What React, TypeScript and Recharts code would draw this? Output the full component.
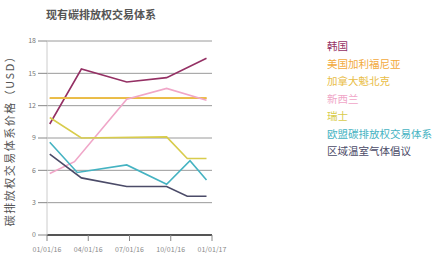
import { LineChart, Line, XAxis, YAxis, CartesianGrid, Legend } from 'recharts'

const xTicks = [0, 3, 6, 9, 12]
const xLabels = ['01/01/16', '04/01/16', '07/01/16', '10/01/16', '01/01/17']
const yTicks = [0, 3, 6, 9, 12, 15, 18]

const names = ['韩国', '美国加利福尼亚', '加拿大魁北克', '新西兰', '瑞士', '欧盟碳排放权交易体系', '区域温室气体倡议']
const colors = ['#943064', '#f2a93b', '#e9bd45', '#f0a6c8', '#d8cc4c', '#45b3c2', '#4b4b68']

// month index (0 = 01/01/16) and price in USD
const koreaMonths = [0.2, 2.5, 5.8, 8.7, 11.6]
const koreaValues = [10.3, 15.4, 14.2, 14.6, 16.4]
const californiaMonths = [0.2, 11.6]
const californiaValues = [12.7, 12.7]
const quebecMonths = [0.2, 11.6]
const quebecValues = [12.7, 12.7]
const nzMonths = [0.2, 2.0, 5.8, 8.7, 11.6]
const nzValues = [5.7, 6.8, 12.6, 13.6, 12.5]
const swissMonths = [0.2, 2.5, 8.7, 10.2, 11.6]
const swissValues = [10.9, 9.0, 9.1, 7.1, 7.1]
const euMonths = [0.2, 2.2, 5.8, 8.7, 10.4, 11.6]
const euValues = [8.6, 5.8, 6.5, 4.7, 6.9, 5.1]
const rggiMonths = [0.2, 2.5, 5.8, 8.7, 10.2, 11.6]
const rggiValues = [7.5, 5.3, 4.5, 4.5, 3.6, 3.6]

const toData = (m: number[], v: number[]) => m.map((x, i) => ({ m: x, v: v[i] }))

const series = [
  toData(koreaMonths, koreaValues),
  toData(californiaMonths, californiaValues),
  toData(quebecMonths, quebecValues),
  toData(nzMonths, nzValues),
  toData(swissMonths, swissValues),
  toData(euMonths, euValues),
  toData(rggiMonths, rggiValues),
]

const font = '"Noto Sans CJK SC", "Noto Sans", sans-serif'

function LegendList() {
  return (
    <div style={{ fontFamily: font, fontSize: 10.5 }}>
      {names.map((n, i) => (
        <div key={n} style={{ color: colors[i], height: 17.5, lineHeight: '17.5px', whiteSpace: 'nowrap' }}>{n}</div>
      ))}
    </div>
  )
}

export default function App() {
  return (
    <div style={{ position: 'absolute', left: 0, top: 0, width: 436, height: 262, background: '#fff', overflow: 'hidden' }}>
      <div style={{ position: 'absolute', left: 46, top: 6, fontFamily: font, fontSize: 11, fontWeight: 600, color: '#555' }}>
        现有碳排放权交易体系
      </div>
      <LineChart width={436} height={262} margin={{ top: 41, right: 119, bottom: 0, left: 0 }}>
        <CartesianGrid vertical={false} stroke="#9a9a9a" />
        <XAxis
          type="number"
          dataKey="m"
          domain={[0, 12]}
          ticks={xTicks}
          tickFormatter={(v) => xLabels[xTicks.indexOf(v)]}
          height={27}
          axisLine={{ stroke: '#555', strokeWidth: 2 }}
          tickLine={{ stroke: '#888' }}
          tickSize={6}
          tick={{ fontSize: 7, fill: '#888', fontFamily: font, dy: 4 }}
          allowDuplicatedCategory={false}
        />
        <YAxis
          domain={[0, 18]}
          ticks={yTicks}
          width={47}
          axisLine={{ stroke: '#ccc' }}
          tickLine={{ stroke: '#888' }}
          tickSize={9}
          tick={{ fontSize: 7, fill: '#777', fontFamily: font }}
          label={{ value: '碳排放权交易体系价格（USD）', angle: -90, position: 'insideLeft', offset: 10, style: { fontSize: 11, letterSpacing: 1.5, fill: '#555', fontFamily: font, textAnchor: 'middle' } }}
        />
        <Legend layout="vertical" verticalAlign="top" align="right" content={LegendList} wrapperStyle={{ left: 327, top: 37 }} />
        {series.map((d, i) => (
          <Line
            key={names[i]}
            data={d}
            dataKey="v"
            name={names[i]}
            stroke={colors[i]}
            strokeWidth={1.6}
            dot={false}
            type="linear"
            isAnimationActive={false}
          />
        ))}
      </LineChart>
    </div>
  )
}
